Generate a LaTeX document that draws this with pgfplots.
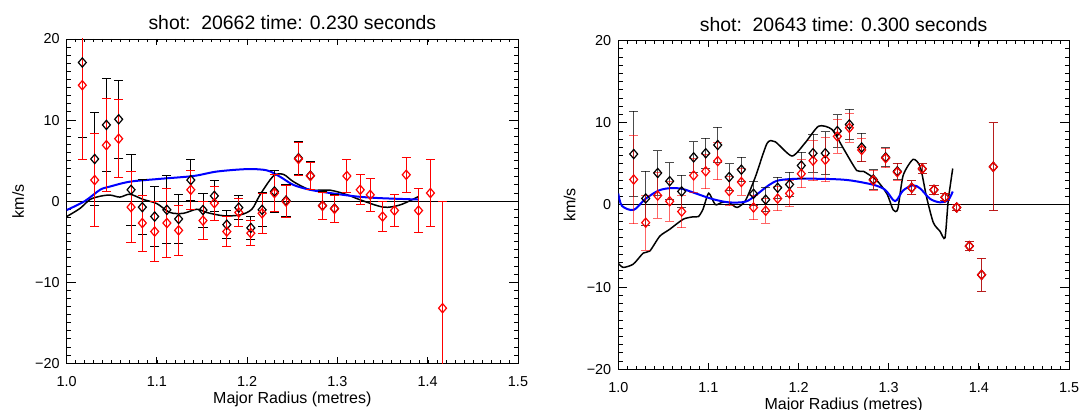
\documentclass[border=0pt]{standalone}
\usepackage{pgfplots}
\usepackage{pgfplotstable}
\pgfplotsset{compat=1.18}
\usepackage{fontspec}
\setmainfont{Liberation Sans}

% left panel: shot 20662
\pgfplotstableread{
x y e
1.0173 17.1 9.2
1.0310 5.2 5.7
1.0440 9.4 5.7
1.0576 10.1 4.8
1.0713 1.4 4.35
1.0838 -0.74 3.4
1.0975 -1.9 3.7
1.1110 -1.07 4.2
1.1240 -2.2 3.0
1.1375 2.6 2.5
1.1510 -1.1 2.1
1.1636 0.65 1.9
1.1774 -2.9 1.7
1.1907 -0.8 1.5
1.2040 -3.3 1.4
1.2165 -1.07 2.1
1.2302 1.2 2.6
1.2430 0.07 2.0
1.2568 5.3 2.0
1.2700 3.15 1.7
1.2834 -0.55 1.7
1.2967 -0.9 1.7
}\leftblack
\pgfplotstableread{
x y e
1.0173 14.3 9.2
1.0310 2.6 5.7
1.0440 6.9 5.7
1.0576 7.7 4.8
1.0713 -0.74 4.35
1.0838 -2.7 3.45
1.0975 -3.75 3.75
1.1110 -2.7 4.2
1.1240 -3.6 3.1
1.1375 1.4 2.4
1.1510 -2.4 2.3
1.1636 -0.25 2.1
1.1774 -3.75 1.9
1.1907 -1.4 1.7
1.2040 -3.95 1.55
1.2165 -1.5 2.5
1.2302 1.0 2.3
1.2430 -0.05 1.95
1.2568 5.2 2.0
1.2700 3.1 1.7
1.2834 -0.58 1.7
1.2967 -0.95 1.7
1.3104 3.1 2.0
1.3252 1.4 1.85
1.3363 0.78 2.0
1.3500 -1.9 1.8
1.3632 -1.16 1.95
1.3762 3.25 2.15
1.3898 -1.16 2.7
1.4030 1.0 4.15
1.4164 -13.2 13.2
}\leftred
\pgfplotstableread{
x y
1.0000 -1.1
1.0200 0.0
1.0370 1.4
1.0480 1.8
1.0700 2.4
1.1034 2.75
1.1404 3.1
1.1663 3.65
1.1996 3.95
1.2217 3.8
1.2365 3.0
1.2512 2.0
1.2697 1.4
1.2919 1.0
1.3215 0.57
1.3473 0.37
1.3895 0.2
}\leftblue
\pgfplotstableread{
x y
1.0000 -1.9
1.0147 -0.9
1.0258 0.2
1.0369 0.6
1.0480 0.75
1.0590 0.5
1.0700 0.85
1.0850 0.2
1.0998 -0.3
1.1145 -1.4
1.1293 -1.5
1.1441 -1.0
1.1552 -1.4
1.1736 -1.8
1.1921 -1.7
1.2051 -1.0
1.2143 0.8
1.2290 3.1
1.2401 3.3
1.2512 2.4
1.2697 1.4
1.2919 1.35
1.3104 0.8
1.3252 0.16
1.3510 -0.74
1.3695 -0.46
1.3898 0.57
}\leftcurve

% right panel: shot 20643
\pgfplotstableread{
x y e
1.0171 6.2 5.2
1.0304 0.8 3.3
1.0437 3.9 2.7
1.0570 2.9 2.25
1.0703 1.65 1.95
1.0836 5.8 1.9
1.0970 6.3 1.85
1.1103 7.3 2.15
1.1230 3.4 1.65
1.1365 4.3 1.5
1.1500 1.36 1.45
1.1635 0.65 1.45
1.1768 2.1 1.3
1.1900 2.5 1.5
1.2030 4.8 1.6
1.2160 6.3 2.3
1.2296 6.3 2.6
1.2430 9.0 2.0
1.2563 9.8 1.85
1.2700 7.0 1.75
1.2829 3.1 1.2
1.2966 5.8 1.15
1.3095 4.1 1.0
1.3255 2.1 0.85
1.3372 4.4 0.6
1.3502 1.85 0.55
1.3624 0.94 0.45
1.3754 -0.3 0.4
1.3894 -5.0 0.55
1.4030 -8.5 2.0
1.4160 4.65 5.35
}\rightblack
\pgfplotstableread{
x y e
1.0171 3.1 5.4
1.0304 -2.15 3.35
1.0437 1.15 2.75
1.0570 0.45 2.4
1.0703 -0.8 2.0
1.0836 3.6 2.1
1.0970 4.1 2.1
1.1103 5.35 2.3
1.1230 1.7 1.8
1.1365 2.8 1.6
1.1500 -0.3 1.5
1.1635 -0.7 1.5
1.1768 0.78 1.5
1.1900 1.4 1.6
1.2030 3.8 1.7
1.2160 5.4 2.45
1.2296 5.5 2.7
1.2430 8.35 2.05
1.2563 9.4 1.75
1.2700 6.7 1.4
1.2829 3.0 1.2
1.2966 5.7 1.15
1.3095 4.0 1.0
1.3255 2.1 0.85
1.3372 4.4 0.6
1.3502 1.85 0.55
1.3624 0.94 0.45
1.3754 -0.3 0.4
1.3894 -5.0 0.55
1.4030 -8.5 2.0
1.4160 4.65 5.35
}\rightred
\pgfplotstableread{
x y
1.0000 1.4
1.0040 -0.1
1.0170 -0.6
1.0300 0.74
1.0450 1.77
1.0577 2.05
1.0707 1.97
1.0854 1.43
1.1040 0.74
1.1225 0.32
1.1410 0.4
1.1520 1.15
1.1668 2.4
1.1780 3.0
1.2000 3.2
1.2350 3.16
1.2570 3.0
1.2830 2.46
1.2960 1.85
1.3050 0.6
1.3090 0.6
1.3160 1.77
1.3270 2.4
1.3350 2.0
1.3460 0.74
1.3570 0.32
1.3660 0.6
1.3710 1.64
}\rightblue
\pgfplotstableread{
x y
1.0000 -7.1
1.0055 -7.6
1.0166 -7.2
1.0277 -5.85
1.0350 -5.6
1.0460 -3.8
1.0570 -2.96
1.0720 -1.73
1.0830 -1.44
1.0890 -1.4
1.0940 -0.5
1.1003 1.43
1.1076 0.04
1.1150 0.32
1.1225 0.32
1.1317 -0.3
1.1410 0.53
1.1520 3.4
1.1650 7.5
1.1740 7.7
1.1927 5.96
1.2075 7.6
1.2223 9.6
1.2370 9.2
1.2496 6.9
1.2645 4.2
1.2720 4.1
1.2867 3.0
1.2980 1.36
1.3050 -0.6
1.3100 -0.5
1.3160 3.6
1.3270 5.55
1.3350 4.65
1.3420 0.94
1.3495 -2.15
1.3569 -3.2
1.3624 -4.0
1.3660 0.53
1.3710 4.44
}\rightcurve

\pgfplotsset{
  idl/.style={
    scale only axis,
    xmin=1, xmax=1.5, ymin=-20, ymax=20,
    xtick={1,1.1,1.2,1.3,1.4,1.5},
    xticklabels={1.0,1.1,1.2,1.3,1.4,1.5},
    ytick={-20,-10,0,10,20},
    yticklabels={−20,−10,0,10,20},
    major tick length=0pt,
    tick label style={font=\fontsize{7.2}{8.5}\selectfont},
    xticklabel style={yshift=-3pt},
    label style={font=\fontsize{8}{9.6}\selectfont},
    xlabel={Major Radius (metres)}, ylabel={km/s},
    xlabel style={at={(axis description cs:0.5,0)}, anchor=base, yshift=-20pt},
    ylabel style={at={(axis description cs:-0.095,0.5)}, anchor=base},
    every axis title shift=0pt,
    title style={at={(axis description cs:0.5,1)}, anchor=base, yshift=4.5pt,
      font=\fontsize{9.7}{11.5}\selectfont},
  },
  tk/.style={black, line width=0.5pt, forget plot},
  pts/.style={only marks, mark=diamond, mark size=2.3pt,
    mark options={xscale=1.15, line width=0.6pt},
    /pgfplots/error bars/y dir=both, /pgfplots/error bars/y explicit,
    /pgfplots/error bars/error mark=-,
    /pgfplots/error bars/error mark options={rotate=90, mark size=2.3pt, line width=0.5pt}},
  barop/.style={/pgfplots/error bars/error bar style={opacity=#1}},
}

% inward ticks on all four sides, drawn as short plot segments
\newcommand\idlticks{%
  \pgfplotsinvokeforeach{1.01,1.02,...,1.495}{%
    \addplot[tk] coordinates {(##1,-20) (##1,-19.59)};
    \addplot[tk] coordinates {(##1,20) (##1,19.59)};}
  \pgfplotsinvokeforeach{1.1,1.2,1.3,1.4}{%
    \addplot[tk] coordinates {(##1,-20) (##1,-19.21)};
    \addplot[tk] coordinates {(##1,20) (##1,19.21)};}
  \pgfplotsinvokeforeach{-19,-18,...,19}{%
    \addplot[tk] coordinates {(1,##1) (1.0049,##1)};
    \addplot[tk] coordinates {(1.5,##1) (1.4951,##1)};}
  \pgfplotsinvokeforeach{-10,0,10}{%
    \addplot[tk] coordinates {(1,##1) (1.01,##1)};
    \addplot[tk] coordinates {(1.5,##1) (1.49,##1)};}
}

\begin{document}
\begin{tikzpicture}
\path[use as bounding box] (0,0) rectangle (540pt,205pt);

\begin{axis}[idl, at={(33.35pt,23.35pt)}, anchor=south west,
  width=225.65pt, height=162.15pt,
  title={shot:\ \ 20662 time: 0.230 seconds}]
  \idlticks
  \addplot[black, line width=0.5pt] coordinates {(1,0) (1.5,0)};
  \addplot[black, line width=0.75pt, smooth] table {\leftcurve};
  \addplot[blue, line width=1pt, smooth] table {\leftblue};
  \addplot[black, pts] table[x=x, y=y, y error=e] {\leftblack};
  \addplot[red, pts] table[x=x, y=y, y error=e] {\leftred};
\end{axis}

\begin{axis}[idl, at={(309.15pt,20.35pt)}, anchor=south west,
  width=225.35pt, height=164.3pt,
  title={shot:\ \ 20643 time: 0.300 seconds}]
  \idlticks
  \addplot[black, line width=0.5pt] coordinates {(1,0) (1.5,0)};
  \addplot[black, line width=0.75pt, smooth, tension=0.4] table {\rightcurve};
  \addplot[blue, line width=1pt, smooth] table {\rightblue};
  \addplot[black, pts, barop=0.7] table[x=x, y=y, y error=e] {\rightblack};
  \addplot[red, pts, barop=0.6] table[x=x, y=y, y error=e] {\rightred};
\end{axis}
\end{tikzpicture}
\end{document}
